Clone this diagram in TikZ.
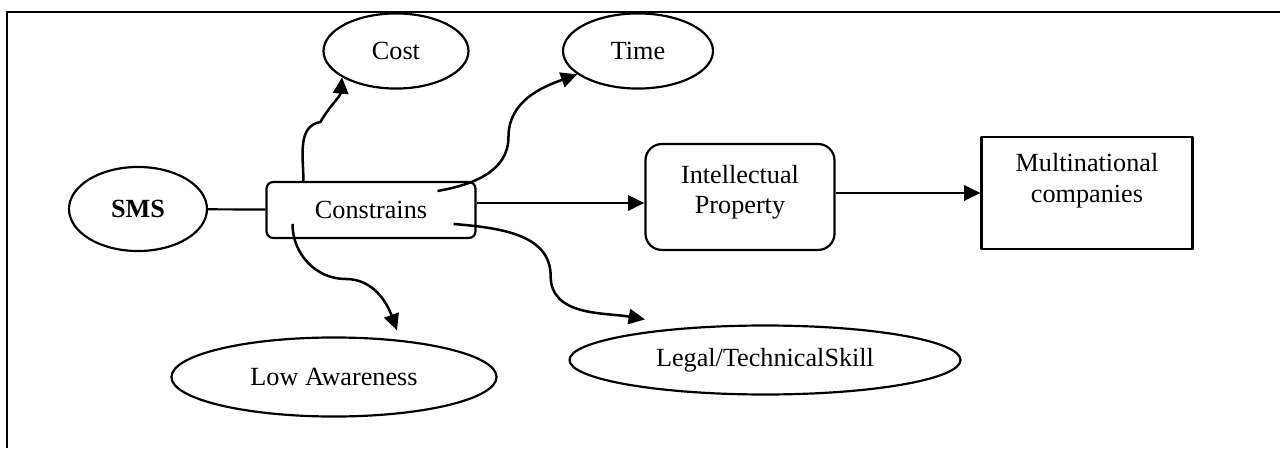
\documentclass[tikz,border=0pt]{standalone}
\usepackage{fontspec}
\setmainfont{Liberation Serif}
\usetikzlibrary{shapes.geometric,arrows.meta,calc,positioning}

\begin{document}
\begin{tikzpicture}[x=0.0161cm,y=0.0161cm,line join=round,
  font=\fontsize{12}{13.8}\selectfont,
  oval/.style={draw,ellipse,line width=1pt,inner sep=0pt},
  rbox/.style={draw,rectangle,rounded corners=#1,line width=1pt,inner sep=0pt},
  arr/.style={line width=1.15pt,-{Triangle[length=7.5pt,width=7pt]}}]
\useasboundingbox (0,0) rectangle (1280,448);
\draw[line width=1pt] (7,0) -- (7,436) -- (1280,436);
% nodes
\node[oval,minimum width=63.2pt,minimum height=38.5pt] (sms) at (138,239) {\textbf{SMS}};
\node[rbox=3pt,minimum width=95.7pt,minimum height=25.6pt] (con) at (371,238) {Constrains};
\node[oval,minimum width=66.4pt,minimum height=34.4pt] (cost) at (396,397) {Cost};
\node[oval,minimum width=68.7pt,minimum height=34.4pt] (time) at (638,397) {Time};
\node[rbox=7.5pt,align=center,minimum width=86.6pt,text height=31.7pt,text depth=16.8pt] (ip) at (740,251) {Intellectual\\Property};
\node[rbox=0pt,align=center,minimum width=96.6pt,text height=29.8pt,text depth=21.5pt] (mn) at (1087,255) {Multinational\\companies};
\node[oval,minimum width=148.9pt,minimum height=36.2pt] (low) at (334,71) {Low Awareness};
\node[oval,minimum width=179.1pt,minimum height=31.6pt] (legal) at (765,88) {Legal/TechnicalSkill};
% links
\draw[line width=1pt] (sms) -- (con);
\draw[arr] ([yshift=3.2pt]con.east) -- ([yshift=3.2pt]con.east -| ip.west);
\draw[arr] (ip.east |- mn.west) -- (mn.west);
\draw[arr] ([xshift=17.4pt]con.north west) to[out=90,in=190] ++(17,59) to[out=60,in=-95] (cost.-154);
\draw[arr] ([xshift=-17.9pt,yshift=-4.6pt]con.north east) to[out=10,in=-90] ++(71,54) to[out=90,in=-160] (time.-159);
\draw[arr] ([xshift=-10.5pt,yshift=6.9pt]con.south east) to[out=-5,in=90] ++(97,-52) to[out=-90,in=170] ($(legal.north)+(-120,5)$);
\draw[arr] ([xshift=12.4pt,yshift=6.9pt]con.south west) to[out=-90,in=180] ++(53,-55) to[out=0,in=110] ($(low.north)+(63,6)$);
\end{tikzpicture}
\end{document}
